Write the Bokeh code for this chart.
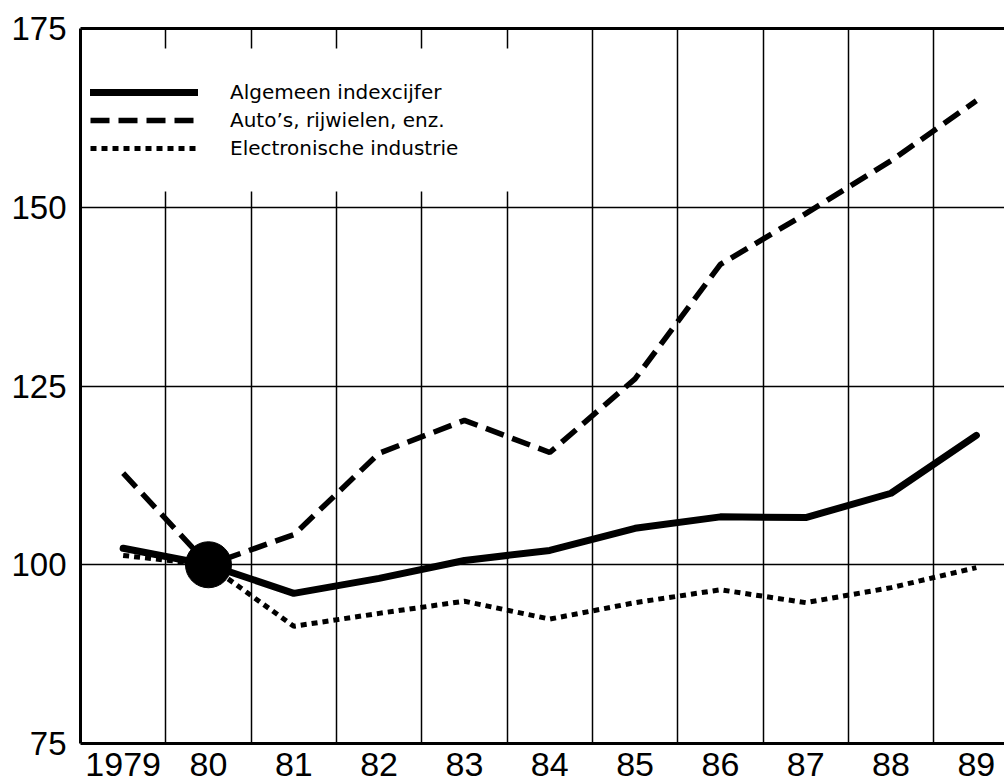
from bokeh.plotting import figure
from bokeh.models import Range1d, FixedTicker, LinearAxis, Legend, LegendItem, BoxAnnotation
from bokeh.embed import file_html
from bokeh.resources import INLINE

# ---- data ----
years = [1979, 1980, 1981, 1982, 1983, 1984, 1985, 1986, 1987, 1988, 1989]
tick_labels = ["1979", "80", "81", "82", "83", "84", "85", "86", "87", "88", "89"]
algemeen = [102.3, 100.0, 96.0, 98.1, 100.6, 102.0, 105.1, 106.7, 106.6, 110.0, 118.1]
autos = [112.8, 100.0, 104.2, 115.6, 120.2, 115.7, 126.0, 142.0, 149.1, 156.5, 164.9]
electronica = [101.3, 100.0, 91.4, 93.2, 94.9, 92.4, 94.7, 96.5, 94.7, 96.8, 99.6]
base_year = [1980]
base_value = [100]
y_ticks = [75, 100, 125, 150, 175]
series_labels = ["Algemeen indexcijfer", "Auto\u2019s, rijwielen, enz.", "Electronische industrie"]

W, H = 1004, 784
X0, X1 = 1978.5, 1989.33

p = figure(width=W, height=H, output_backend="svg", toolbar_location=None,
           x_range=Range1d(X0, X1), y_range=Range1d(y_ticks[0], y_ticks[-1]),
           min_border_left=80, min_border_right=0, min_border_top=28, min_border_bottom=41,
           background_fill_color="white", border_fill_color="white")
p.outline_line_color = None

# axes
for ax in (p.xaxis[0], p.yaxis[0]):
    ax.axis_line_width = 3
    ax.axis_line_color = "black"
    ax.major_tick_line_color = None
    ax.minor_tick_line_color = None
    ax.major_label_text_color = "black"
    ax.major_label_text_font = "Liberation Sans"

p.yaxis.ticker = FixedTicker(ticks=y_ticks)
p.yaxis.major_label_text_font_size = "33px"
p.yaxis.major_label_standoff = 8

p.xaxis.ticker = FixedTicker(ticks=years)
p.xaxis.major_label_overrides = {y: l for y, l in zip(years, tick_labels)}
p.xaxis.major_label_text_font_size = "34px"
p.xaxis.major_label_standoff = 3

top = LinearAxis(ticker=FixedTicker(ticks=[]), axis_line_width=3, axis_line_color="black",
                 major_tick_line_color=None, minor_tick_line_color=None,
                 major_label_text_font_size="0px")
p.add_layout(top, "above")

# grid
p.xgrid.ticker = FixedTicker(ticks=[y + 0.5 for y in years[:-1]])
p.ygrid.ticker = FixedTicker(ticks=y_ticks[1:-1])
for g in (p.xgrid[0], p.ygrid[0]):
    g.grid_line_color = "black"
    g.grid_line_width = 1.5
    g.grid_line_alpha = 1.0

# series
r1 = p.line(years, algemeen, line_width=7, line_color="black", line_join="round", line_cap="round")
r2 = p.line(years, autos, line_width=5.5, line_color="black", line_dash="19 9")
r3 = p.line(years, electronica, line_width=5, line_color="black", line_dash="6 5")
p.scatter(base_year, base_value, size=46, color="black")

# white box behind the legend
box = BoxAnnotation(left=X0 + 0.03, right=1983.95, top=172.2, bottom=152.2,
                    fill_color="white", fill_alpha=1.0, line_color=None)
p.add_layout(box)

legend = Legend(items=[LegendItem(label=series_labels[0], renderers=[r1]),
                       LegendItem(label=series_labels[1], renderers=[r2]),
                       LegendItem(label=series_labels[2], renderers=[r3])],
                location=(10, 583), glyph_width=108, glyph_height=20, label_height=20,
                label_standoff=32, spacing=4, padding=0, margin=0,
                border_line_color=None, background_fill_alpha=0,
                label_text_font="DejaVu Sans", label_text_font_size="20px",
                label_text_color="black")
p.add_layout(legend, "center")

open("out.html", "w").write(file_html(p, INLINE))
